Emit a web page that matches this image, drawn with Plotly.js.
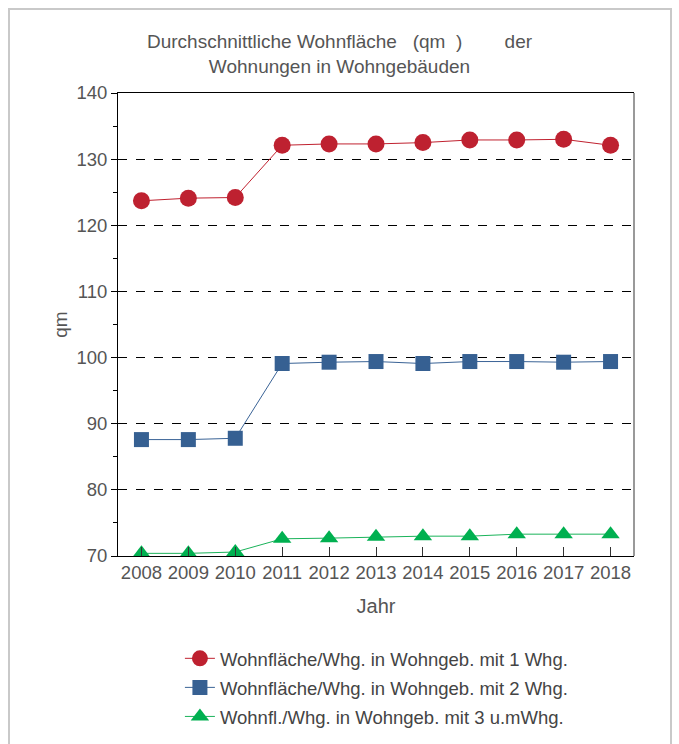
<!DOCTYPE html>
<html>
<head>
<meta charset="utf-8">
<script src="https://cdn.plot.ly/plotly-3.0.1.min.js"></script>
<style>
  body { margin: 0; background: #fff; }
  #wrap { position: relative; width: 679px; height: 744px; overflow: hidden; }
  #frame { position: absolute; left: 8px; top: 8px; width: 660px; height: 800px;
           border: 2px solid #c9c9c9; pointer-events: none; }
</style>
</head>
<body>
<div id="wrap">
  <div id="graph" style="width:679px;height:744px;"></div>
  <div id="frame"></div>
</div>
<script>
const years = ['2008', '2009', '2010', '2011', '2012', '2013', '2014', '2015', '2016', '2017', '2018'];
const einWhg = [123.7, 124.1, 124.2, 132.1, 132.3, 132.3, 132.5, 132.9, 132.9, 133.0, 132.1];
const zweiWhg = [87.6, 87.6, 87.8, 99.1, 99.3, 99.4, 99.1, 99.4, 99.4, 99.3, 99.4];
const dreiWhg = [70.4, 70.4, 70.6, 72.6, 72.7, 72.9, 73.0, 73.0, 73.3, 73.3, 73.3];
const names = [
  'Wohnfläche/Whg. in Wohngeb. mit 1 Whg.',
  'Wohnfläche/Whg. in Wohngeb. mit 2 Whg.',
  'Wohnfl./Whg. in Wohngeb. mit 3 u.mWhg.'
];

const fam = 'Liberation Sans, Arial, sans-serif';
const sp = n => '\u00a0'.repeat(n);

const traces = [
  { x: years, y: einWhg, name: names[0], legendgroup: 'a', mode: 'lines+markers',
    line: { color: '#c0212f', width: 1 }, marker: { symbol: 'circle', size: 17, color: '#be2130' } },
  { x: years, y: zweiWhg, name: names[1], legendgroup: 'b', mode: 'lines+markers',
    line: { color: '#3a6396', width: 1 }, marker: { symbol: 'square', size: 15, color: '#366092' } },
  { x: years, y: dreiWhg, name: names[2], legendgroup: 'c', mode: 'lines+markers',
    line: { color: '#1ab35a', width: 1 }, marker: { symbol: 'triangle-up', size: 16, color: '#00b050' } }
];

Plotly.newPlot('graph', traces, {
  width: 679, height: 744,
  margin: { l: 118, r: 45, t: 93, b: 188, autoexpand: false },
  paper_bgcolor: '#fff', plot_bgcolor: '#fff',
  font: { family: fam, size: 18, color: '#555' },
  title: {
    text: 'Durchschnittliche Wohnfläche' + sp(3) + '(qm' + sp(2) + ')' + sp(8) + 'der<br>Wohnungen in Wohngebäuden',
    font: { family: fam, size: 19, color: '#555' },
    x: 0.5, xanchor: 'center', yref: 'container', y: 0.935, yanchor: 'top'
  },
  xaxis: {
    type: 'category', range: [-0.5, 10.5], automargin: false,
    showline: true, linecolor: '#000', linewidth: 1, mirror: true,
    ticks: 'inside', ticklen: 9, tickcolor: '#333',
    showgrid: false, zeroline: false,
    tickfont: { size: 18.5, color: '#555' },
    title: { text: 'Jahr', font: { size: 20, color: '#555' }, standoff: 16 }
  },
  yaxis: {
    range: [70, 140], dtick: 10, tick0: 70, automargin: false,
    showline: true, linecolor: '#000', linewidth: 1,
    ticks: 'outside', ticklen: 6, tickcolor: '#000',
    minor: { dtick: 5, ticks: 'outside', ticklen: 4, tickcolor: '#000', showgrid: false },
    showgrid: true, gridcolor: '#000', griddash: 'dash', gridwidth: 1,
    zeroline: false,
    tickfont: { size: 18.5, color: '#555' },
    title: { text: 'qm', font: { size: 19, color: '#555' }, standoff: 3 }
  },
  shapes: [
    { type: 'line', xref: 'paper', yref: 'paper', x0: 1, x1: 1, y0: 0, y1: 1,
      line: { color: '#999', width: 2 } }
  ],
  showlegend: true,
  legend: {
    orientation: 'v', traceorder: 'grouped', tracegroupgap: 2,
    x: 0.12, xanchor: 'left', y: -0.181, yanchor: 'top',
    font: { size: 18.5, color: '#444' }, bgcolor: 'rgba(0,0,0,0)'
  }
}, { displayModeBar: false, staticPlot: true });
</script>
</body>
</html>
